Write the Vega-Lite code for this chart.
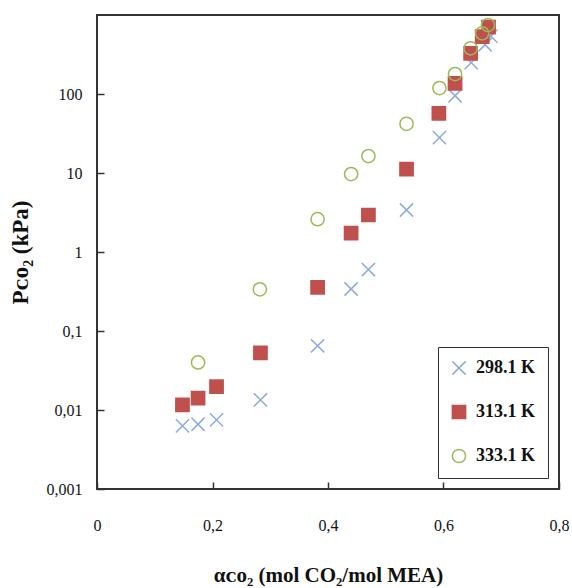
{
  "$schema": "https://vega.github.io/schema/vega-lite/v6.json",
  "width": 462,
  "height": 474,
  "autosize": "none",
  "padding": {"left": 97, "top": 15, "right": 13, "bottom": 99},
  "background": "white",
  "config": {
    "view": {"stroke": "#333333", "strokeWidth": 2},
    "font": "Liberation Serif"
  },
  "data": {
    "values": [
      {"alpha": 0.148, "p": 0.0063, "T": "298.1 K"},
      {"alpha": 0.175, "p": 0.0066, "T": "298.1 K"},
      {"alpha": 0.207, "p": 0.0075, "T": "298.1 K"},
      {"alpha": 0.283, "p": 0.0134, "T": "298.1 K"},
      {"alpha": 0.382, "p": 0.065, "T": "298.1 K"},
      {"alpha": 0.44, "p": 0.34, "T": "298.1 K"},
      {"alpha": 0.47, "p": 0.6, "T": "298.1 K"},
      {"alpha": 0.536, "p": 3.4, "T": "298.1 K"},
      {"alpha": 0.593, "p": 28, "T": "298.1 K"},
      {"alpha": 0.62, "p": 95, "T": "298.1 K"},
      {"alpha": 0.648, "p": 250, "T": "298.1 K"},
      {"alpha": 0.672, "p": 420, "T": "298.1 K"},
      {"alpha": 0.682, "p": 540, "T": "298.1 K"},
      {"alpha": 0.148, "p": 0.0116, "T": "313.1 K"},
      {"alpha": 0.175, "p": 0.0141, "T": "313.1 K"},
      {"alpha": 0.207, "p": 0.0197, "T": "313.1 K"},
      {"alpha": 0.283, "p": 0.053, "T": "313.1 K"},
      {"alpha": 0.382, "p": 0.357, "T": "313.1 K"},
      {"alpha": 0.44, "p": 1.73, "T": "313.1 K"},
      {"alpha": 0.47, "p": 2.94, "T": "313.1 K"},
      {"alpha": 0.536, "p": 11.2, "T": "313.1 K"},
      {"alpha": 0.592, "p": 57, "T": "313.1 K"},
      {"alpha": 0.62, "p": 136, "T": "313.1 K"},
      {"alpha": 0.647, "p": 327, "T": "313.1 K"},
      {"alpha": 0.667, "p": 531, "T": "313.1 K"},
      {"alpha": 0.678, "p": 700, "T": "313.1 K"},
      {"alpha": 0.175, "p": 0.04, "T": "333.1 K"},
      {"alpha": 0.282, "p": 0.337, "T": "333.1 K"},
      {"alpha": 0.382, "p": 2.6, "T": "333.1 K"},
      {"alpha": 0.44, "p": 9.7, "T": "333.1 K"},
      {"alpha": 0.47, "p": 16.4, "T": "333.1 K"},
      {"alpha": 0.536, "p": 42, "T": "333.1 K"},
      {"alpha": 0.593, "p": 119, "T": "333.1 K"},
      {"alpha": 0.62, "p": 179, "T": "333.1 K"},
      {"alpha": 0.647, "p": 379, "T": "333.1 K"},
      {"alpha": 0.667, "p": 587, "T": "333.1 K"},
      {"alpha": 0.677, "p": 747, "T": "333.1 K"}
    ]
  },
  "mark": {"type": "point", "size": 175, "strokeWidth": 1.5, "opacity": 1},
  "encoding": {
    "x": {
      "field": "alpha",
      "type": "quantitative",
      "scale": {"domain": [0, 0.8], "nice": false, "zero": false},
      "axis": {
        "values": [0, 0.2, 0.4, 0.6, 0.8],
        "labelExpr": "replace(toString(datum.value), '.', ',')",
        "title": "αᴄᴏ₂ (mol CO₂/mol MEA)",
        "titleFont": "Liberation Serif",
        "titleFontSize": 21,
        "titleFontWeight": "bold",
        "titleColor": "#111",
        "titlePadding": 31,
        "grid": false,
        "domain": false,
        "tickSize": -7,
        "tickWidth": 1.5,
        "tickColor": "#333",
        "labelPadding": 35,
        "labelFontSize": 16,
        "labelColor": "#111",
        "labelFlush": false
      }
    },
    "y": {
      "field": "p",
      "type": "quantitative",
      "scale": {"type": "log", "domain": [0.001, 1000], "nice": false},
      "axis": {
        "values": [0.001, 0.01, 0.1, 1, 10, 100],
        "labelExpr": "replace(toString(datum.value), '.', ',')",
        "title": "Pᴄᴏ₂ (kPa)",
        "titleFont": "Liberation Serif",
        "titleFontSize": 23,
        "titleFontWeight": "bold",
        "titleColor": "#111",
        "titlePadding": 14,
        "grid": false,
        "domain": false,
        "tickSize": -7,
        "tickWidth": 1.5,
        "tickColor": "#333",
        "labelPadding": 22,
        "labelFontSize": 16,
        "labelColor": "#111",
        "labelFlush": false
      }
    },
    "shape": {
      "field": "T",
      "type": "nominal",
      "scale": {"domain": ["298.1 K", "313.1 K", "333.1 K"], "range": ["M-1,-1L1,1M1,-1L-1,1", "square", "circle"]},
      "legend": {
        "title": null,
        "orient": "bottom-right",
        "offset": 11,
        "padding": 12,
        "strokeColor": "#333",
        "fillColor": "white",
        "labelFontSize": 18,
        "labelFontWeight": "bold",
        "labelColor": "#111",
        "labelFont": "Liberation Serif",
        "labelOffset": 8,
        "rowPadding": 24,
        "symbolSize": 175,
        "symbolStrokeWidth": 1.5
      }
    },
    "stroke": {
      "field": "T",
      "type": "nominal",
      "scale": {"domain": ["298.1 K", "313.1 K", "333.1 K"], "range": ["#8FAADC", "#C0504D", "#9BBB59"]},
      "legend": {
        "title": null,
        "orient": "bottom-right",
        "offset": 11,
        "padding": 12,
        "strokeColor": "#333",
        "fillColor": "white",
        "labelFontSize": 18,
        "labelFontWeight": "bold",
        "labelColor": "#111",
        "labelFont": "Liberation Serif",
        "labelOffset": 8,
        "rowPadding": 24,
        "symbolSize": 175,
        "symbolStrokeWidth": 1.5
      }
    },
    "fill": {
      "field": "T",
      "type": "nominal",
      "scale": {"domain": ["298.1 K", "313.1 K", "333.1 K"], "range": ["rgba(0,0,0,0)", "#C0504D", "rgba(0,0,0,0)"]},
      "legend": {
        "title": null,
        "orient": "bottom-right",
        "offset": 11,
        "padding": 12,
        "strokeColor": "#333",
        "fillColor": "white",
        "labelFontSize": 18,
        "labelFontWeight": "bold",
        "labelColor": "#111",
        "labelFont": "Liberation Serif",
        "labelOffset": 8,
        "rowPadding": 24,
        "symbolSize": 175,
        "symbolStrokeWidth": 1.5
      }
    }
  }
}
